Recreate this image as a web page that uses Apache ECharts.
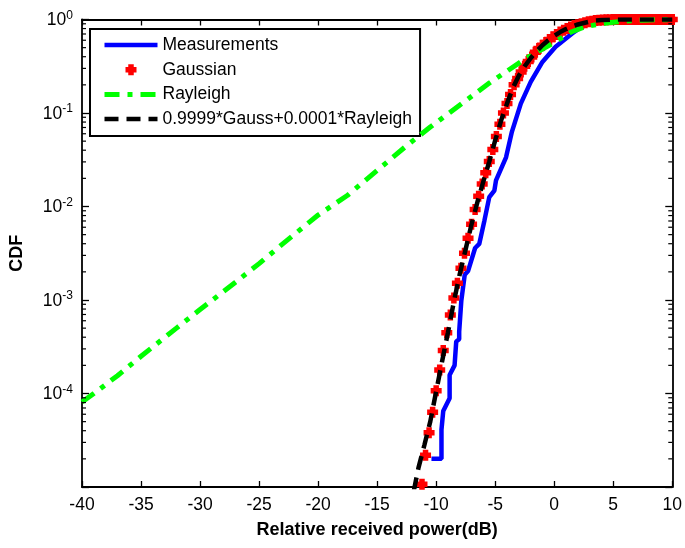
<!DOCTYPE html>
<html>
<head>
<meta charset="utf-8">
<script src="https://cdn.jsdelivr.net/npm/echarts@6/dist/echarts.min.js"></script>
<style>html,body{margin:0;padding:0;background:#fff}#c{width:685px;height:548px}</style>
</head>
<body>
<div id="c"></div>
<script>
// ---- data ----
const measX = [-10.4, -9.55, -9.55, -9.4, -8.86, -8.86, -8.44, -8.3, -8.05, -8.05, -7.87, -7.58, -7.3, -6.7, -6.35, -5.91, -5.5, -5.07, -4.93, -4.08, -3.6, -2.83, -1.99, -1.0, 0.12, 1.52, 2.09, 3.0, 4.0, 5.0, 10.0];
const measY = [2.0e-5, 2.0e-5, 4.1e-5, 6.5e-5, 8.9e-5, 1.58e-4, 2.0e-4, 3.6e-4, 3.8e-4, 4.6e-4, 9.8e-4, 1.86e-3, 2.04e-3, 3.6e-3, 3.98e-3, 7.1e-3, 0.0126, 0.0148, 0.019, 0.0336, 0.062, 0.126, 0.215, 0.352, 0.51, 0.71, 0.80, 0.92, 0.985, 1.0, 1.0];

const gaussX = [-11.2, -10.9, -10.6, -10.3, -10.0, -9.7, -9.4, -9.1, -8.8, -8.5, -8.2, -7.9, -7.6, -7.3, -7.0, -6.7, -6.4, -6.1, -5.8, -5.5, -5.2, -4.9, -4.6, -4.3, -4.0, -3.7, -3.4, -3.1, -2.8, -2.5, -2.2, -1.9, -1.6, -1.3, -1.0, -0.7, -0.4, -0.1, 0.2, 0.5, 0.8, 1.1, 1.4, 1.7, 2.0, 2.3, 2.6, 2.9, 3.2, 3.5, 3.8, 4.1, 4.4, 4.7, 5.0, 5.3, 5.6, 5.9, 6.2, 6.5, 6.8, 7.1, 7.4, 7.7, 8.0, 8.3, 8.6, 8.9, 9.2, 9.5, 9.8, 10.0];
const gaussY = [1.07e-5, 2.19e-5, 3.8e-5, 6.3e-5, 1.07e-4, 1.78e-4, 2.88e-4, 4.47e-4, 6.9e-4, 1.05e-3, 1.51e-3, 2.19e-3, 3.16e-3, 4.57e-3, 6.46e-3, 9.3e-3, 0.0129, 0.0174, 0.0229, 0.0302, 0.0407, 0.0562, 0.0759, 0.100, 0.126, 0.158, 0.200, 0.234, 0.275, 0.316, 0.355, 0.398, 0.447, 0.490, 0.531, 0.569, 0.610, 0.653, 0.692, 0.733, 0.767, 0.803, 0.832, 0.861, 0.881, 0.902, 0.923, 0.944, 0.959, 0.973, 0.982, 0.989, 0.993, 0.995, 0.998, 1, 1, 1, 1, 1, 1, 1, 1, 1, 1, 1, 1, 1, 1, 1, 1, 1];

const rayX = [-40, -39, -37, -35, -32, -30, -27, -25, -23, -20, -17.5, -15, -12.5, -10.5, -7.7, -5.5, -2.4, 0, 1.5, 2.6, 4.6, 6.5, 8, 10];
const rayY = [8.1e-5, 1.0e-4, 1.55e-4, 2.5e-4, 5.0e-4, 7.9e-4, 1.55e-3, 2.45e-3, 3.98e-3, 8.1e-3, 0.0132, 0.0243, 0.0447, 0.0708, 0.130, 0.209, 0.383, 0.569, 0.74, 0.838, 0.925, 0.97, 0.99, 0.998];

const mixX = [-11.9, -11.5, -11.0, -10.5, -10.0, -9.5, -9.0, -8.5, -8.0, -7.5, -7.0, -6.5, -6.0, -5.5, -5.0, -4.5, -4.0, -3.5, -3.0, -2.5, -2.0, -1.5, -1.0, -0.5, 0, 0.5, 1.0, 1.5, 2.0, 2.5, 3.0, 3.5, 4.0, 5.0, 6.0, 10.0];
const mixY = [9.0e-6, 1.6e-5, 2.8e-5, 5.0e-5, 1.05e-4, 2.2e-4, 4.5e-4, 9.6e-4, 1.9e-3, 3.5e-3, 6.46e-3, 0.0112, 0.0186, 0.0302, 0.051, 0.083, 0.126, 0.186, 0.25, 0.316, 0.385, 0.457, 0.531, 0.60, 0.67, 0.733, 0.79, 0.842, 0.885, 0.918, 0.95, 0.973, 0.985, 0.997, 1, 1];

const seriesNames = ['Measurements', 'Gaussian', 'Rayleigh', '0.9999*Gauss+0.0001*Rayleigh'];
const xTickRange = [-40, 10, 5];        // min, max, interval
const yExponents = [-5, -4, -3, -2, -1, 0];
const minorMultipliers = [2, 3, 4, 5, 6, 7, 8, 9];
const hiddenYLabelExp = -5;

// ---- chart ----
const FONT = 'Liberation Sans, Arial, Helvetica, sans-serif';
const zip = (xs, ys) => xs.map((x, i) => [x, ys[i]]);
const yMin = Math.pow(10, yExponents[0]);
const yMax = Math.pow(10, yExponents[yExponents.length - 1]);

const minorVals = [];
yExponents.slice(0, -1).forEach(e => minorMultipliers.forEach(m => minorVals.push(m * Math.pow(10, e))));

const plusPath = 'path://M2.5,0 H7.5 V2.5 H10 V7.5 H7.5 V10 H2.5 V7.5 H0 V2.5 H2.5 Z';

const blueStyle = {color: '#0000ff', width: 4.5, type: 'solid'};
const greenStyle = {color: '#00ff00', width: 5, type: [15, 8, 5, 8]};
const blackStyle = {color: '#000000', width: 4.5, type: [14, 8]};
const hideSym = {opacity: 0, color: 'rgba(0,0,0,0)', borderWidth: 0};

const axisLine = {show: true, onZero: false, lineStyle: {color: '#000', width: 1.8}};
const chart = echarts.init(document.getElementById('c'), null, {renderer: 'canvas'});
chart.setOption({
  animation: false,
  backgroundColor: '#fff',
  grid: {left: 80, right: 11, top: 19.5, bottom: 61, containLabel: false},
  xAxis: [{
    type: 'value', min: xTickRange[0], max: xTickRange[1], interval: xTickRange[2],
    position: 'bottom',
    axisLine: axisLine,
    axisTick: {show: true, inside: true, length: 6, lineStyle: {color: '#000', width: 1.3}},
    axisLabel: {color: '#000', fontSize: 17.5, fontFamily: FONT, margin: 9},
    splitLine: {show: false},
    name: 'Relative received power(dB)', nameLocation: 'middle', nameGap: 34,
    nameTextStyle: {color: '#000', fontSize: 18, fontWeight: 'bold', fontFamily: FONT}
  }, {
    type: 'value', min: xTickRange[0], max: xTickRange[1], interval: xTickRange[2],
    position: 'top',
    axisLine: axisLine,
    axisTick: {show: true, inside: true, length: 6, lineStyle: {color: '#000', width: 1.3}},
    axisLabel: {show: false}, splitLine: {show: false}
  }],
  yAxis: [{
    type: 'log', logBase: 10, min: yMin, max: yMax,
    position: 'left',
    axisLine: axisLine,
    axisTick: {show: true, inside: true, length: 7, lineStyle: {color: '#000', width: 1.3}},
    minorTick: {show: false},
    splitLine: {show: false},
    axisLabel: {
      margin: 9, color: '#000', fontFamily: FONT,
      formatter: v => {
        const e = Math.round(Math.log10(v));
        if (e === hiddenYLabelExp) return '';
        return '{b|10}{s|' + e + '}';
      },
      rich: {
        b: {fontSize: 17.5, fontFamily: FONT, color: '#000', verticalAlign: 'bottom', lineHeight: 20},
        s: {fontSize: 12, fontFamily: FONT, color: '#000', verticalAlign: 'top', padding: [0, 0, 8, 0], lineHeight: 20}
      }
    },
    name: 'CDF', nameLocation: 'middle', nameGap: 56, nameRotate: 90,
    nameTextStyle: {color: '#000', fontSize: 18, fontWeight: 'bold', fontFamily: FONT}
  }, {
    type: 'log', logBase: 10, min: yMin, max: yMax,
    position: 'right',
    axisLine: axisLine,
    axisTick: {show: true, inside: true, length: 7, lineStyle: {color: '#000', width: 1.3}},
    axisLabel: {show: false}, splitLine: {show: false}
  }],
  legend: {
    orient: 'vertical', left: 90, top: 29,
    padding: [7, 8, 8, 12], itemGap: 6.7, itemWidth: 53, itemHeight: 11,
    borderColor: '#000', borderWidth: 2, backgroundColor: '#fff',
    textStyle: {fontSize: 17.5, fontFamily: FONT, color: '#000', lineHeight: 18},
    data: [
      {name: seriesNames[0], itemStyle: hideSym, lineStyle: blueStyle},
      {name: seriesNames[1]},
      {name: seriesNames[2], itemStyle: hideSym, lineStyle: greenStyle},
      {name: seriesNames[3], itemStyle: hideSym, lineStyle: blackStyle}
    ]
  },
  series: [{
    name: seriesNames[0], type: 'line', data: zip(measX, measY),
    symbol: 'none', showSymbol: false, z: 2,
    itemStyle: {color: '#0000ff'},
    lineStyle: blueStyle
  }, {
    name: seriesNames[1], type: 'scatter', data: zip(gaussX, gaussY),
    symbol: plusPath, symbolSize: 11, symbolKeepAspect: true, z: 3,
    itemStyle: {color: '#ff0000', opacity: 1}
  }, {
    name: seriesNames[2], type: 'line', data: zip(rayX, rayY),
    symbol: 'none', showSymbol: false, z: 4,
    itemStyle: {color: '#00ff00'},
    lineStyle: greenStyle
  }, {
    name: seriesNames[3], type: 'line', data: zip(mixX, mixY),
    symbol: 'none', showSymbol: false, z: 5,
    itemStyle: {color: '#000000'},
    lineStyle: blackStyle
  }, {
    type: 'custom', name: 'minorTicks', silent: true, z: 10, clip: false,
    data: minorVals.map(v => [xTickRange[0], v]),
    renderItem: (params, api) => {
      const v = api.value(1);
      const pL = api.coord([xTickRange[0], v]);
      const pR = api.coord([xTickRange[1], v]);
      return {type: 'group', children: [
        {type: 'line', shape: {x1: pL[0], y1: pL[1], x2: pL[0] + 4, y2: pL[1]}, style: {stroke: '#000', lineWidth: 1.2}},
        {type: 'line', shape: {x1: pR[0], y1: pR[1], x2: pR[0] - 4, y2: pR[1]}, style: {stroke: '#000', lineWidth: 1.2}}
      ]};
    }
  }]
});
</script>
</body>
</html>
